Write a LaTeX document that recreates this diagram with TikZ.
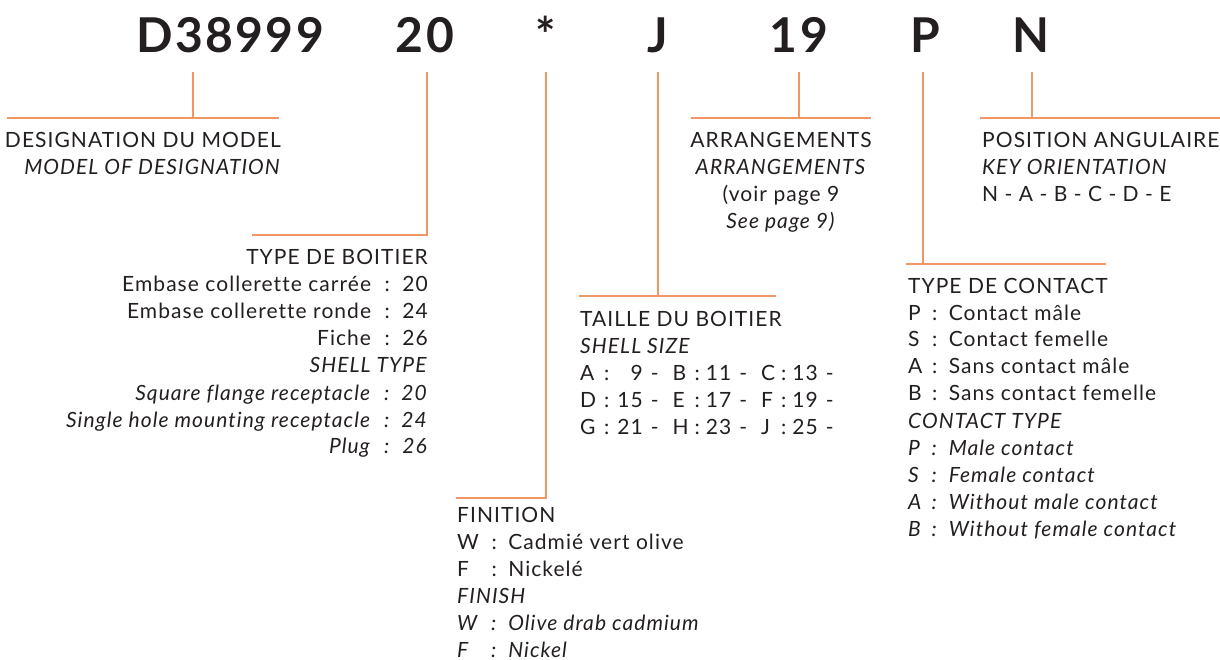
\documentclass[tikz,border=0pt]{standalone}
\usepackage{fontspec}
\setmainfont{Lato}[LetterSpace=5,Ligatures=NoCommon]
\definecolor{leadorange}{RGB}{242,150,104}
\definecolor{inkgrey}{RGB}{35,31,32}

\begin{document}
\begin{tikzpicture}[x=1pt,y=-1pt,
    lead/.style={draw=leadorange,line width=2pt},
    code/.style={font=\fontsize{48}{54}\selectfont\bfseries,text=inkgrey,inner sep=0pt,anchor=base},
    info/.style={font=\fontsize{21}{27}\selectfont,text=inkgrey,inner sep=0pt}]
    \useasboundingbox (0,0) rectangle (1220,660);

    % reference code
    \node[code] (model) at (230,53) {D38999};
    \node[code] (shell) at (425,53) {20};
    \node[code] (finish) at (546,53) {*};
    \node[code] (size) at (658,53) {J};
    \node[code] (layout) at (799,53) {19};
    \node[code] (contact) at (925,53) {P};
    \node[code] (key) at (1031,53) {N};

    % leader lines
    \coordinate (m0) at (193,72);  \coordinate (m1) at (193,118);
    \coordinate (mL) at (7,118);   \coordinate (mR) at (279,118);
    \coordinate (s0) at (427,72);  \coordinate (s1) at (427,235);
    \coordinate (sL) at (252,235);
    \coordinate (f0) at (546,72);  \coordinate (f1) at (546,498);
    \coordinate (fL) at (456,498);
    \coordinate (t0) at (658,72);  \coordinate (t1) at (658,296);
    \coordinate (tL) at (579,296); \coordinate (tR) at (776,296);
    \coordinate (a0) at (799,72);  \coordinate (a1) at (799,118);
    \coordinate (aL) at (691,118); \coordinate (aR) at (871,118);
    \coordinate (c0) at (923,72);  \coordinate (c1) at (923,264);
    \coordinate (cL) at (906,264); \coordinate (cR) at (1106,264);
    \coordinate (k0) at (1032,72); \coordinate (k1) at (1032,118);
    \coordinate (kL) at (980,118); \coordinate (kR) at (1220,118);
    \draw[lead] (m0) -- (m1);
    \draw[lead] (mL) -- (mR);
    \draw[lead] (s0) -- (s1) -- (sL);
    \draw[lead] (f0) -- (f1) -- (fL);
    \draw[lead] (t0) -- (t1);
    \draw[lead] (tL) -- (tR);
    \draw[lead] (a0) -- (a1);
    \draw[lead] (aL) -- (aR);
    \draw[lead] (c0) -- (c1);
    \draw[lead] (cL) -- (cR);
    \draw[lead] (k0) -- (k1);
    \draw[lead] (kL) -- (kR);

    % text blocks
    \node[info,anchor=base east] (modeltxt) at (281,148) {\begin{tabular}[t]{@{}r@{}}
      DESIGNATION DU MODEL\\
      \textit{MODEL OF DESIGNATION}
    \end{tabular}};
    \node[info,anchor=base east] (shelltxt) at (428,265) {\begin{tabular}[t]{@{}r@{\hspace{13pt}}c@{\hspace{11pt}}r@{}}
      \multicolumn{3}{@{}r@{}}{TYPE DE BOITIER}\\
      Embase collerette carrée & : & 20\\
      Embase collerette ronde & : & 24\\
      Fiche & : & 26\\
      \multicolumn{3}{@{}r@{}}{\textit{SHELL TYPE}}\\
      \textit{Square flange receptacle} & \textit{:} & \textit{20}\\
      \textit{Single hole mounting receptacle} & \textit{:} & \textit{24}\\
      \textit{Plug} & \textit{:} & \textit{26}
    \end{tabular}};
    \node[info,anchor=base west] (finishtxt) at (457,522) {\begin{tabular}[t]{@{}l@{\hspace{12pt}}c@{\hspace{11pt}}l@{}}
      \multicolumn{3}{@{}l@{}}{FINITION}\\
      W & : & Cadmié vert olive\\
      F & : & Nickelé\\
      \multicolumn{3}{@{}l@{}}{\textit{FINISH}}\\
      \textit{W} & \textit{:} & \textit{Olive drab cadmium}\\
      \textit{F} & \textit{:} & \textit{Nickel}
    \end{tabular}};
    \node[info,anchor=base west] (sizetxt) at (580,326) {\begin{tabular}[t]{@{}l@{\hspace{8pt}:\hspace{8pt}}r@{\hspace{8pt}-\hspace{14pt}}l@{\hspace{6pt}:\hspace{6pt}}r@{\hspace{8pt}-\hspace{14pt}}l@{\hspace{6pt}:\hspace{6pt}}r@{\hspace{8pt}-}}
      \multicolumn{6}{@{}l@{}}{TAILLE DU BOITIER}\\
      \multicolumn{6}{@{}l@{}}{\textit{SHELL SIZE}}\\
      A & 9 & B & 11 & C & 13\\
      D & 15 & E & 17 & F & 19\\
      G & 21 & H & 23 & J & 25
    \end{tabular}};
    \node[info,anchor=base] (layouttxt) at (781,148) {\begin{tabular}[t]{@{}c@{}}
      ARRANGEMENTS\\
      \textit{ARRANGEMENTS}\\
      (voir page 9\\
      \textit{See page 9)}
    \end{tabular}};
    \node[info,anchor=base west] (contacttxt) at (908,293) {\begin{tabular}[t]{@{}l@{\hspace{9pt}}c@{\hspace{11pt}}l@{}}
      \multicolumn{3}{@{}l@{}}{TYPE DE CONTACT}\\
      P & : & Contact mâle\\
      S & : & Contact femelle\\
      A & : & Sans contact mâle\\
      B & : & Sans contact femelle\\
      \multicolumn{3}{@{}l@{}}{\textit{CONTACT TYPE}}\\
      \textit{P} & \textit{:} & \textit{Male contact}\\
      \textit{S} & \textit{:} & \textit{Female contact}\\
      \textit{A} & \textit{:} & \textit{Without male contact}\\
      \textit{B} & \textit{:} & \textit{Without female contact}
    \end{tabular}};
    \node[info,anchor=base west] (keytxt) at (982,148) {\begin{tabular}[t]{@{}l@{}}
      POSITION ANGULAIRE\\
      \textit{KEY ORIENTATION}\\
      N - A - B - C - D - E
    \end{tabular}};
  \end{tikzpicture}
\end{document}
